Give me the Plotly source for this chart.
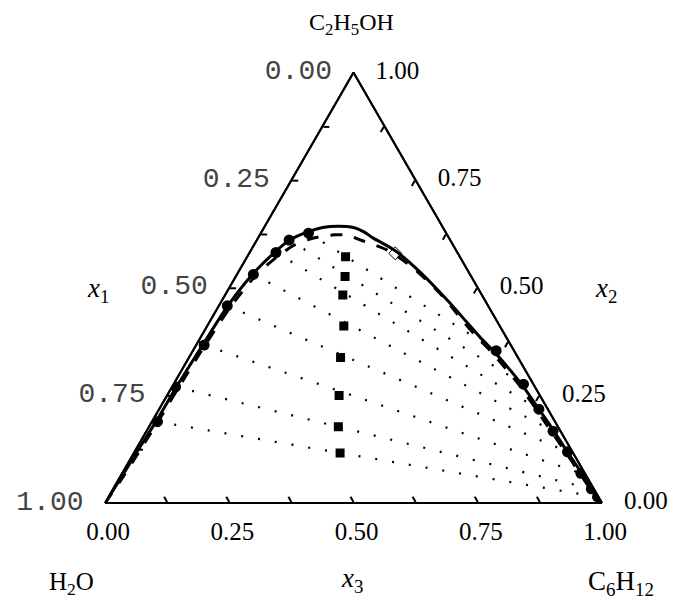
import plotly.graph_objects as go

# ---------------- data (mole fractions) ----------------
# x1 = H2O, x2 = C2H5OH, x3 = C6H12
# experimental tie lines, ordered from bottom to top
water_rich_x2 = [0.189, 0.270, 0.367, 0.458, 0.531, 0.582, 0.611, 0.627]
water_rich_x3 = [0.011, 0.007, 0.016, 0.017, 0.033, 0.053, 0.065, 0.096]
hc_rich_x2 = [0.014, 0.033, 0.069, 0.119, 0.167, 0.218, 0.276, 0.354]
hc_rich_x3 = [0.984, 0.962, 0.923, 0.871, 0.818, 0.764, 0.704, 0.610]
feed_x2 = [0.116, 0.177, 0.250, 0.338, 0.411, 0.483, 0.526, 0.572]
feed_x3 = [0.415, 0.381, 0.346, 0.305, 0.275, 0.237, 0.220, 0.198]

# plait point
plait_x2 = [0.580]
plait_x3 = [0.294]

# calculated binodal curves
model1_x2 = [0.000, 0.060, 0.120, 0.189, 0.270, 0.367, 0.458, 0.531, 0.582, 0.611,
             0.630, 0.640, 0.643, 0.640, 0.630, 0.616, 0.586, 0.537, 0.472, 0.420,
             0.386, 0.354, 0.320, 0.276, 0.218, 0.177, 0.116, 0.069, 0.033, 0.010, 0.000]
model1_x3 = [0.000, 0.003, 0.005, 0.008, 0.009, 0.013, 0.018, 0.031, 0.050, 0.066,
             0.093, 0.118, 0.148, 0.180, 0.206, 0.231, 0.291, 0.365, 0.452, 0.518,
             0.561, 0.604, 0.647, 0.700, 0.764, 0.809, 0.874, 0.925, 0.963, 0.988, 1.000]
model2_x2 = [0.000, 0.060, 0.120, 0.189, 0.270, 0.367, 0.458, 0.531, 0.575, 0.600,
             0.615, 0.623, 0.622, 0.613, 0.588, 0.546, 0.480, 0.420, 0.386, 0.354,
             0.276, 0.177, 0.116, 0.069, 0.033, 0.000]
model2_x3 = [0.000, 0.006, 0.009, 0.012, 0.014, 0.018, 0.025, 0.040, 0.062, 0.082,
             0.110, 0.150, 0.180, 0.203, 0.273, 0.347, 0.440, 0.512, 0.555, 0.598,
             0.694, 0.803, 0.870, 0.921, 0.960, 1.000]

tick_vals = [0, 0.125, 0.25, 0.375, 0.5, 0.625, 0.75, 0.875, 1.0]
label_vals = [0, 0.25, 0.5, 0.75, 1.0]
tick_labels = ["0.00", "0.25", "0.50", "0.75", "1.00"]


def closure(x2, x3):
    return [1 - p - q for p, q in zip(x2, x3)]


W, H = 675, 609
SERIF = "Liberation Serif, Times New Roman, serif"
MONO = "Liberation Mono, Courier New, monospace"
NB = "\u00a0"

fig = go.Figure()

# tie lines
for i in range(len(water_rich_x2)):
    a = [water_rich_x2[i], hc_rich_x2[i]]
    c = [water_rich_x3[i], hc_rich_x3[i]]
    fig.add_trace(go.Scatterternary(
        a=a, b=closure(a, c), c=c, mode="lines",
        line=dict(color="black", width=2.2, dash="2px,15px"),
        hoverinfo="skip"))

# model curves
fig.add_trace(go.Scatterternary(
    a=model2_x2, b=closure(model2_x2, model2_x3), c=model2_x3, mode="lines",
    line=dict(color="black", width=3, dash="12px,12px", shape="spline", smoothing=0.8)))
fig.add_trace(go.Scatterternary(
    a=model1_x2, b=closure(model1_x2, model1_x3), c=model1_x3, mode="lines",
    line=dict(color="black", width=3, shape="spline", smoothing=0.8)))

# experimental points
fig.add_trace(go.Scatterternary(
    a=water_rich_x2 + hc_rich_x2,
    b=closure(water_rich_x2 + hc_rich_x2, water_rich_x3 + hc_rich_x3),
    c=water_rich_x3 + hc_rich_x3, mode="markers",
    marker=dict(symbol="circle", size=11, color="black")))
fig.add_trace(go.Scatterternary(
    a=feed_x2, b=closure(feed_x2, feed_x3), c=feed_x3, mode="markers",
    marker=dict(symbol="square", size=9, color="black")))
fig.add_trace(go.Scatterternary(
    a=plait_x2, b=closure(plait_x2, plait_x3), c=plait_x3, mode="markers",
    marker=dict(symbol="diamond-open", size=10, color="black", line=dict(width=1))))

# empty trace to draw the overlay frame with the inner minor ticks
fig.add_trace(go.Scatterternary(a=[], b=[], c=[], subplot="ternary2", mode="markers"))


def label_axis(font, ticklen, prefix=""):
    # tick labels show the fraction of the neighbouring vertex, so reversed
    return dict(showgrid=False, linecolor="black", linewidth=2,
                ticks="outside" if ticklen else "",
                ticklen=ticklen, tickcolor="rgba(0,0,0,0)",
                tickmode="array", tickvals=label_vals,
                ticktext=[prefix + t for t in tick_labels[::-1]],
                tickfont=font, title=dict(text=""))


def tick_axis():
    return dict(showgrid=False, linecolor="black", linewidth=2, ticks="inside",
                ticklen=6, tickwidth=1.5, tickcolor="black",
                tickmode="array", tickvals=tick_vals, showticklabels=False,
                title=dict(text=""))


bl = (105, 503)
br = (602, 503)
top_y = 503 - (br[0] - bl[0]) * 3 ** 0.5 / 2
dom = dict(x=[bl[0] / W, br[0] / W], y=[1 - bl[1] / H, 1 - top_y / H])

fig.update_layout(
    width=W, height=H, margin=dict(l=0, r=0, t=0, b=0),
    paper_bgcolor="white", plot_bgcolor="white", showlegend=False, hovermode=False,
    ternary=dict(
        sum=1, bgcolor="white", domain=dom,
        aaxis=label_axis(dict(family=MONO, size=28, color="#444444"), 17),
        baxis=label_axis(dict(family=SERIF, size=25, color="black"), 6),
        caxis=label_axis(dict(family=SERIF, size=25, color="black"), 0, NB * 3),
    ),
    ternary2=dict(
        sum=1, bgcolor="rgba(0,0,0,0)", domain=dom,
        aaxis=tick_axis(), baxis=tick_axis(), caxis=tick_axis(),
    ),
)


def ann(text, px, py, size=25):
    fig.add_annotation(text=text, x=px / W, y=1 - py / H, xref="paper", yref="paper",
                       showarrow=False, font=dict(family=SERIF, size=size, color="black"),
                       xanchor="center", yanchor="middle")


ann("C<sub>2</sub>H<sub>5</sub>OH", 352, 24, 24)
ann("H<sub>2</sub>O", 71, 583)
ann("C<sub>6</sub>H<sub>12</sub>", 621, 583, 27)
ann("<i>x</i><sub>1</sub>", 98, 290, 27)
ann("<i>x</i><sub>2</sub>", 606, 290, 27)
ann("<i>x</i><sub>3</sub>", 352, 580, 27)

fig.write_html("out.html")
